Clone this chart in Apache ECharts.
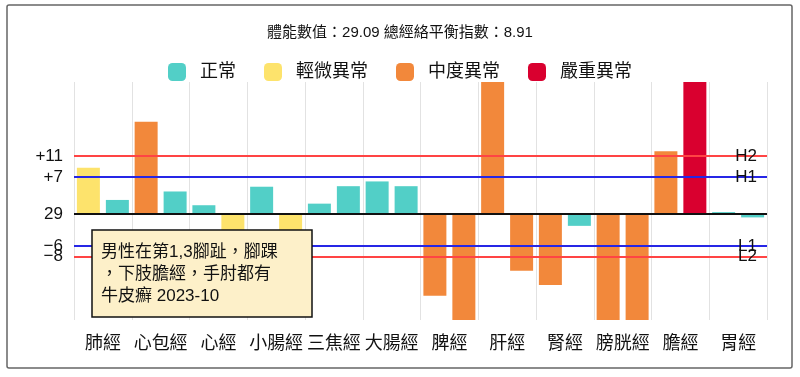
<!DOCTYPE html>
<html>
<head>
<meta charset="utf-8">
<script src="https://cdn.jsdelivr.net/npm/echarts@6/dist/echarts.min.js"></script>
<style>
  html, body { margin: 0; padding: 0; background: #fff; }
  #chart { width: 800px; height: 377px; }
</style>
</head>
<body>
<div id="chart"></div>
<script>
// meridians, two readings each (left / right side)
const categories = ['肺經', '心包經', '心經', '小腸經', '三焦經', '大腸經', '脾經', '肝經', '腎經', '膀胱經', '膽經', '胃經'];
const leftValues = [8.8, 17.5, 1.7, 5.2, 2.0, 6.2, -15.4, 30, -13.4, -25, 11.9, 0.4];
const rightValues = [2.7, 4.3, -7, -7, 5.3, 5.3, -25, -10.7, -2.2, -25, 35, -0.6];
// 0 正常, 1 輕微異常, 2 中度異常, 3 嚴重異常
const leftLevels = [1, 2, 0, 0, 0, 0, 2, 2, 2, 2, 2, 0];
const rightLevels = [0, 0, 1, 1, 0, 0, 2, 2, 0, 2, 3, 0];
const levelNames = ['正常', '輕微異常', '中度異常', '嚴重異常'];
const levelColors = ['#52cfc7', '#fde36c', '#f2883b', '#d9002f'];
// reference lines
const refLines = [
    { name: 'H2', value: 11, color: '#ff4444' },
    { name: 'H1', value: 7, color: '#2626e6' },
    { name: 'L1', value: -6, color: '#2626e6' },
    { name: 'L2', value: -8, color: '#ff4444' }
];
// y tick labels; -8 sits on its own axis so the two low labels may overlap
const yTickValues = [-6, 0, 7, 11];
const yTickLabels = ['−6', '29', '+7', '+11'];
const yTickValues2 = [-8];
const yTickLabels2 = ['−8'];
const titleText = '體能數值：29.09 總經絡平衡指數：8.91';
const noteText = '男性在第1,3腳趾，腳踝\n，下肢膽經，手肘都有\n牛皮癬 2023-10';

const FONT = '"Liberation Sans", "Noto Sans CJK TC", sans-serif';
const chart = echarts.init(document.getElementById('chart'));

const barSeries = (name, values, levels) => ({
    name,
    type: 'bar',
    data: values,
    barGap: '26%',
    barCategoryGap: '10%',
    itemStyle: { color: p => levelColors[levels[p.dataIndex]] }
});

const markLines = [{ yAxis: 0, lineStyle: { color: '#111', width: 2, type: 'solid' }, label: { show: false } }]
    .concat(refLines.map(r => ({
        yAxis: r.value,
        lineStyle: { color: r.color, width: 2, type: 'solid' },
        label: { show: true, formatter: r.name }
    })));

const left = barSeries('left', leftValues, leftLevels);
left.markLine = {
    silent: true,
    symbol: 'none',
    label: { position: 'insideEnd', distance: 10, color: '#111', fontSize: 17, fontFamily: FONT },
    data: markLines
};

// legend-only series, no data
const legendSeries = levelNames.map((n, i) => ({
    name: n,
    type: 'line',
    data: [],
    itemStyle: { color: levelColors[i] },
    lineStyle: { color: levelColors[i] }
}));

const yAxisBase = (values, labels) => ({
    type: 'value',
    position: 'left',
    min: -20,
    max: 25,
    axisLine: { show: false },
    axisTick: { show: false },
    splitLine: { show: false },
    axisLabel: {
        customValues: values,
        hideOverlap: false,
        showMinLabel: true,
        showMaxLabel: true,
        margin: 11,
        fontSize: 17,
        color: '#111',
        fontFamily: FONT,
        formatter: v => labels[values.indexOf(v)] || ''
    }
});

chart.setOption({
    animation: false,
    title: {
        text: titleText,
        left: 'center',
        top: 20,
        textStyle: { fontSize: 15, fontWeight: 'normal', color: '#111', fontFamily: FONT }
    },
    legend: {
        data: levelNames,
        top: 58,
        left: 'center',
        icon: 'roundRect',
        itemWidth: 18,
        itemHeight: 18,
        itemGap: 28,
        textStyle: { fontSize: 18, color: '#111', fontFamily: FONT, padding: [0, 0, 0, 9] }
    },
    grid: { left: 74, right: 33, top: 82, bottom: 57 },
    xAxis: {
        type: 'category',
        data: categories,
        axisLine: { show: false, onZero: false },
        axisTick: { show: false },
        splitLine: { show: true, lineStyle: { color: '#e2e2e2', width: 1 } },
        axisLabel: { interval: 0, margin: 15, fontSize: 18, color: '#111', fontFamily: FONT }
    },
    yAxis: [
        yAxisBase(yTickValues, yTickLabels),
        yAxisBase(yTickValues2, yTickLabels2)
    ],
    series: [
        left,
        barSeries('right', rightValues, rightLevels)
    ].concat(legendSeries),
    graphic: [
        {
            type: 'rect',
            z: 0,
            shape: { x: 7, y: 5, width: 785, height: 363, r: 2 },
            style: { fill: 'none', stroke: '#666', lineWidth: 1.5 }
        },
        {
            type: 'rect',
            z: 100,
            shape: { x: 92, y: 230, width: 220, height: 87 },
            style: { fill: '#fdf0c9', stroke: '#111', lineWidth: 1.5 }
        },
        {
            type: 'text',
            z: 101,
            x: 101,
            y: 241,
            style: { text: noteText, fill: '#111', fontSize: 17, lineHeight: 22, fontFamily: FONT }
        }
    ]
});
</script>
</body>
</html>
